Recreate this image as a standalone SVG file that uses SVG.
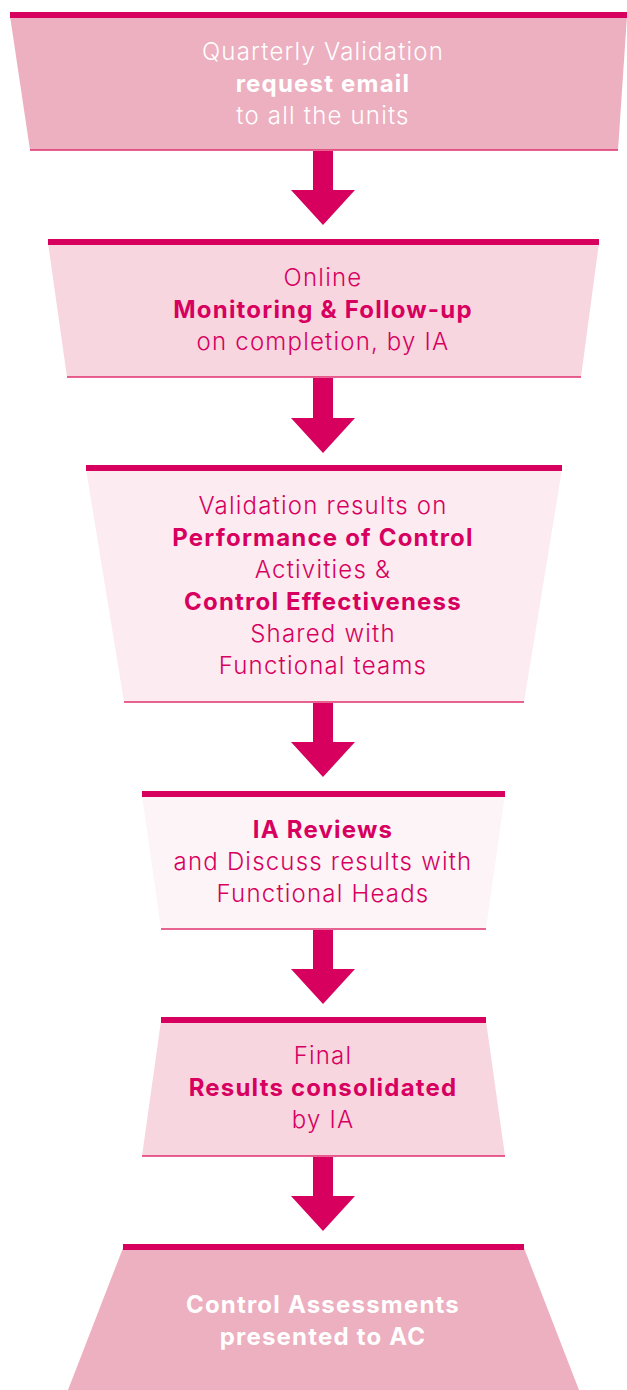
<svg xmlns="http://www.w3.org/2000/svg" width="627" height="1390" viewBox="0 0 627 1390">
<style>
.bar{fill:#d7005f}
.base{stroke:#e0306f;stroke-width:1.5;fill:none}
.t{font-family:Inter,"Liberation Sans",sans-serif;font-size:24px;font-weight:300;letter-spacing:1.2px;text-anchor:middle;fill:#d7005f}
.b{font-weight:bold}
.w{fill:#ffffff}
.arr{fill:#d7005f}
</style>
<rect width="627" height="1390" fill="#ffffff"/>
<g id="node1">
<polygon points="10,16 627,16 618,150 30,150" fill="#edb0c0"/>
<rect class="bar" x="10" y="12" width="617" height="6"/>
<line class="base" x1="30" y1="150" x2="618" y2="150"/>
<text class="t w" x="323" y="60">Quarterly Validation</text>
<text class="t w b" x="323" y="92">request email</text>
<text class="t w" x="323" y="124">to all the units</text>
</g>
<g id="node2">
<polygon points="48,243 599,243 581,377 67,377" fill="#f7d6df"/>
<rect class="bar" x="48" y="239" width="551" height="6"/>
<line class="base" x1="67" y1="377" x2="581" y2="377"/>
<text class="t" x="323" y="286">Online</text>
<text class="t b" x="323" y="318">Monitoring &amp; Follow-up</text>
<text class="t" x="323" y="350">on completion, by IA</text>
</g>
<g id="node3">
<polygon points="86,469 562,469 524,702 124,702" fill="#fcebf0"/>
<rect class="bar" x="86" y="465" width="476" height="6"/>
<line class="base" x1="124" y1="702" x2="524" y2="702"/>
<text class="t" x="323" y="514">Validation results on</text>
<text class="t b" x="323" y="546">Performance of Control</text>
<text class="t" x="323" y="578">Activities &amp;</text>
<text class="t b" x="323" y="610">Control Effectiveness</text>
<text class="t" x="323" y="642">Shared with</text>
<text class="t" x="323" y="674">Functional teams</text>
</g>
<g id="node4">
<polygon points="142,795 505,795 486,929 161,929" fill="#fcf4f6"/>
<rect class="bar" x="142" y="791" width="363" height="6"/>
<line class="base" x1="161" y1="929" x2="486" y2="929"/>
<text class="t b" x="323" y="838">IA Reviews</text>
<text class="t" x="323" y="870">and Discuss results with</text>
<text class="t" x="323" y="902">Functional Heads</text>
</g>
<g id="node5">
<polygon points="161,1021 486,1021 505,1156 142,1156" fill="#f7d6df"/>
<rect class="bar" x="161" y="1017" width="325" height="6"/>
<line class="base" x1="142" y1="1156" x2="505" y2="1156"/>
<text class="t" x="323" y="1064">Final</text>
<text class="t b" x="323" y="1096">Results consolidated</text>
<text class="t" x="323" y="1128">by IA</text>
</g>
<g id="node6">
<polygon points="123,1248 524,1248 579,1390 68,1390" fill="#edb0c0"/>
<rect class="bar" x="123" y="1244" width="401" height="6"/>
<text class="t w b" x="323" y="1313">Control Assessments</text>
<text class="t w b" x="323" y="1345">presented to AC</text>
</g>
<g id="connectors">
<polygon class="arr" points="313,151 333,151 333,190 355,190 323,225 291,190 313,190"/>
<polygon class="arr" points="313,378 333,378 333,418 355,418 323,453 291,418 313,418"/>
<polygon class="arr" points="313,703 333,703 333,742 355,742 323,777 291,742 313,742"/>
<polygon class="arr" points="313,930 333,930 333,969 355,969 323,1004 291,969 313,969"/>
<polygon class="arr" points="313,1157 333,1157 333,1196 355,1196 323,1231 291,1196 313,1196"/>
</g>
</svg>
